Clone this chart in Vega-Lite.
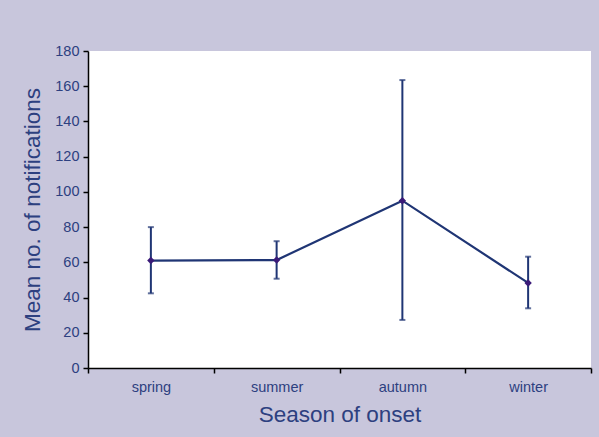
{
  "$schema": "https://vega.github.io/schema/vega-lite/v6.json",
  "autosize": "none",
  "width": 503,
  "height": 317,
  "padding": {"left": 88, "top": 51, "right": 8, "bottom": 69},
  "background": "#c8c6dc",
  "config": {
    "view": {"fill": "white", "stroke": null},
    "font": "Liberation Sans",
    "axis": {
      "domainColor": "#000000",
      "domainWidth": 1.5,
      "tickColor": "#000000",
      "tickWidth": 1.5,
      "tickSize": 5,
      "grid": false,
      "labelColor": "#2d4080",
      "titleColor": "#2d4080",
      "labelFontSize": 14.5,
      "titleFontSize": 22.5,
      "titleFontWeight": "normal",
      "labelFont": "Liberation Sans",
      "titleFont": "Liberation Sans"
    }
  },
  "data": {
    "values": [
      {"season": "spring", "mean": 61, "lo": 42.4, "hi": 80},
      {"season": "summer", "mean": 61.3, "lo": 50.7, "hi": 72},
      {"season": "autumn", "mean": 95, "lo": 27.3, "hi": 163.5},
      {"season": "winter", "mean": 48.3, "lo": 33.9, "hi": 63.2}
    ]
  },
  "encoding": {
    "x": {
      "field": "season",
      "type": "nominal",
      "sort": null,
      "scale": {"paddingInner": 0, "paddingOuter": 0},
      "axis": {
        "title": "Season of onset",
        "labelAngle": 0,
        "tickBand": "extent",
        "labelPadding": 7,
        "titlePadding": 10
      }
    },
    "y": {
      "field": "mean",
      "type": "quantitative",
      "scale": {"domain": [0, 180], "nice": false},
      "axis": {
        "title": "Mean no. of notifications",
        "values": [0, 20, 40, 60, 80, 100, 120, 140, 160, 180],
        "labelOverlap": false,
        "labelFlush": false,
        "labelBound": false,
        "labelPadding": 4,
        "titlePadding": 10
      }
    }
  },
  "layer": [
    {
      "mark": {"type": "rule", "color": "#1f3574", "strokeWidth": 2},
      "encoding": {
        "y": {"field": "lo", "type": "quantitative"},
        "y2": {"field": "hi"}
      }
    },
    {
      "mark": {"type": "tick", "color": "#1f3574", "thickness": 2, "size": 6, "orient": "horizontal"},
      "encoding": {"y": {"field": "lo", "type": "quantitative"}}
    },
    {
      "mark": {"type": "tick", "color": "#1f3574", "thickness": 2, "size": 6, "orient": "horizontal"},
      "encoding": {"y": {"field": "hi", "type": "quantitative"}}
    },
    {
      "mark": {"type": "line", "color": "#1f3574", "strokeWidth": 2.2},
      "encoding": {}
    },
    {
      "mark": {"type": "point", "shape": "diamond", "filled": true, "color": "#3a1a78", "size": 55, "opacity": 1},
      "encoding": {}
    }
  ]
}
